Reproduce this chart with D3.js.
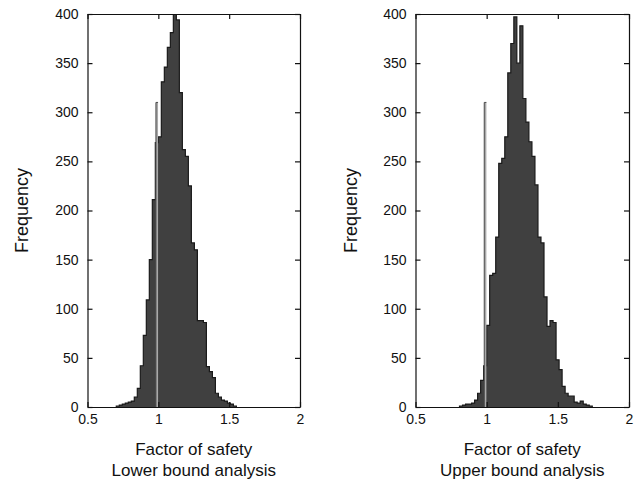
<!DOCTYPE html>
<html>
<head>
<meta charset="utf-8">
<script src="https://cdn.jsdelivr.net/npm/d3@7/dist/d3.min.js"></script>
<style>
  html, body { margin: 0; padding: 0; background: #ffffff; }
  svg { display: block; }
  text { font-family: "Liberation Sans", Arial, Helvetica, sans-serif; fill: #111; }
</style>
</head>
<body>
<script>
// Histogram bins: common width, bin edges run from the first edge in steps of binWidth
const binWidth = 0.0212;
const xTicks = [0.5, 1, 1.5, 2];
const yTicks = [0, 50, 100, 150, 200, 250, 300, 350, 400];

// Lower bound analysis: counts per bin, first bin starts at lowerFirstEdge
const lowerFirstEdge = 0.7032;
const lowerCounts = [1, 2, 3, 4, 5, 6, 10, 19, 42, 73, 109, 150, 211, 269,
  275, 331, 346, 366, 381, 404, 394, 320, 262, 255, 225, 167, 160, 88, 88, 86,
  41, 36, 30, 14, 10, 7, 6, 4, 3, 1];

// Upper bound analysis: counts per bin, first bin starts at upperFirstEdge
const upperFirstEdge = 0.8092;
const upperCounts = [1, 2, 3, 3, 4, 7, 14, 27, 42,
  83, 134, 136, 173, 248, 253, 275, 340, 370, 397, 350, 388, 314, 290, 270,
  255, 226, 173, 167, 112, 82, 88, 86, 48, 38, 21, 14, 11, 11, 5, 4, 6, 3, 2, 1];

// Narrow bar of samples with factor of safety at 1
const spikeLeft = 0.983;
const spikeRight = 0.998;
const spikeCount = 310;

const panels = [
  { firstEdge: lowerFirstEdge, counts: lowerCounts, left: 87.5, right: 300,
    yLabelX: 22, xLabel: ["Factor of safety", "Lower bound analysis"] },
  { firstEdge: upperFirstEdge, counts: upperCounts, left: 415.5, right: 629,
    yLabelX: 351, xLabel: ["Factor of safety", "Upper bound analysis"] }
];

const W = 642, H = 484, plotTop = 14, plotBottom = 407;

const svg = d3.select("body").append("svg")
  .attr("width", W).attr("height", H);

panels.forEach((p, i) => {
  const x = d3.scaleLinear().domain([0.5, 2]).range([p.left, p.right]);
  const y = d3.scaleLinear().domain([0, 400]).range([plotBottom, plotTop]);
  const g = svg.append("g");

  const clipId = "plot-clip-" + i;
  svg.append("clipPath").attr("id", clipId)
    .append("rect")
    .attr("x", p.left).attr("y", plotTop)
    .attr("width", p.right - p.left).attr("height", plotBottom - plotTop);

  const bins = p.counts.map((c, k) => ({
    x0: p.firstEdge + k * binWidth,
    x1: p.firstEdge + (k + 1) * binWidth,
    count: c
  }));

  const plot = g.append("g").attr("clip-path", `url(#${clipId})`);

  // histogram as one stepped shape: solid fill, dark outline
  const pts = [];
  bins.forEach(b => { pts.push([b.x0, b.count]); pts.push([b.x1, b.count]); });
  plot.append("path")
    .attr("d", d3.area().x(d => x(d[0])).y0(y(0)).y1(d => y(d[1]))(pts))
    .attr("fill", "#404040");
  const outline = [[bins[0].x0, 0], ...pts, [bins[bins.length - 1].x1, 0]];
  plot.append("path")
    .attr("d", d3.line().x(d => x(d[0])).y(d => y(d[1]))(outline))
    .attr("fill", "none")
    .attr("stroke", "#1a1a1a")
    .attr("stroke-width", 1.2)
    .attr("stroke-linejoin", "miter");

  // narrow bar at factor of safety 1
  plot.append("rect")
    .attr("x", x(spikeLeft))
    .attr("width", x(spikeRight) - x(spikeLeft))
    .attr("y", y(spikeCount))
    .attr("height", y(0) - y(spikeCount))
    .attr("fill", "#a9a9a9");
  plot.append("line")
    .attr("x1", x(spikeLeft)).attr("x2", x(spikeLeft))
    .attr("y1", y(spikeCount)).attr("y2", y(0))
    .attr("stroke", "#4a4a4a").attr("stroke-width", 1);
  plot.append("line")
    .attr("x1", x(spikeLeft)).attr("x2", x(spikeRight))
    .attr("y1", y(spikeCount)).attr("y2", y(spikeCount))
    .attr("stroke", "#4a4a4a").attr("stroke-width", 1);

  // axes with inward ticks on all four sides
  const styleAxis = sel => {
    sel.selectAll("path.domain").attr("stroke", "#111").attr("stroke-width", 1.2);
    sel.selectAll(".tick line").attr("stroke", "#111").attr("stroke-width", 1.2);
    sel.selectAll("text").attr("font-size", 14).attr("fill", "#111")
      .attr("font-family", '"Liberation Sans", Arial, sans-serif');
  };

  g.append("g").attr("transform", `translate(0,${plotBottom})`)
    .call(d3.axisBottom(x).tickValues(xTicks).tickFormat(d => String(d))
      .tickSizeInner(-5).tickSizeOuter(0).tickPadding(7))
    .call(styleAxis);
  g.append("g").attr("transform", `translate(0,${plotTop})`)
    .call(d3.axisTop(x).tickValues(xTicks).tickFormat("")
      .tickSizeInner(-5).tickSizeOuter(0))
    .call(styleAxis);
  g.append("g").attr("transform", `translate(${p.left},0)`)
    .call(d3.axisLeft(y).tickValues(yTicks).tickFormat(d => String(d))
      .tickSizeInner(-5).tickSizeOuter(0).tickPadding(9))
    .call(styleAxis);
  g.append("g").attr("transform", `translate(${p.right},0)`)
    .call(d3.axisRight(y).tickValues(yTicks).tickFormat("")
      .tickSizeInner(-5).tickSizeOuter(0))
    .call(styleAxis);

  // axis titles
  g.append("text")
    .attr("transform", `translate(${p.yLabelX},${(plotTop + plotBottom) / 2}) rotate(-90)`)
    .attr("text-anchor", "middle")
    .attr("dy", "0.35em")
    .attr("font-size", 18)
    .text("Frequency");

  const cx = (p.left + p.right) / 2;
  g.append("text").attr("x", cx).attr("y", 455)
    .attr("text-anchor", "middle").attr("font-size", 17)
    .text(p.xLabel[0]);
  g.append("text").attr("x", cx).attr("y", 476)
    .attr("text-anchor", "middle").attr("font-size", 17)
    .text(p.xLabel[1]);
});
</script>
</body>
</html>
